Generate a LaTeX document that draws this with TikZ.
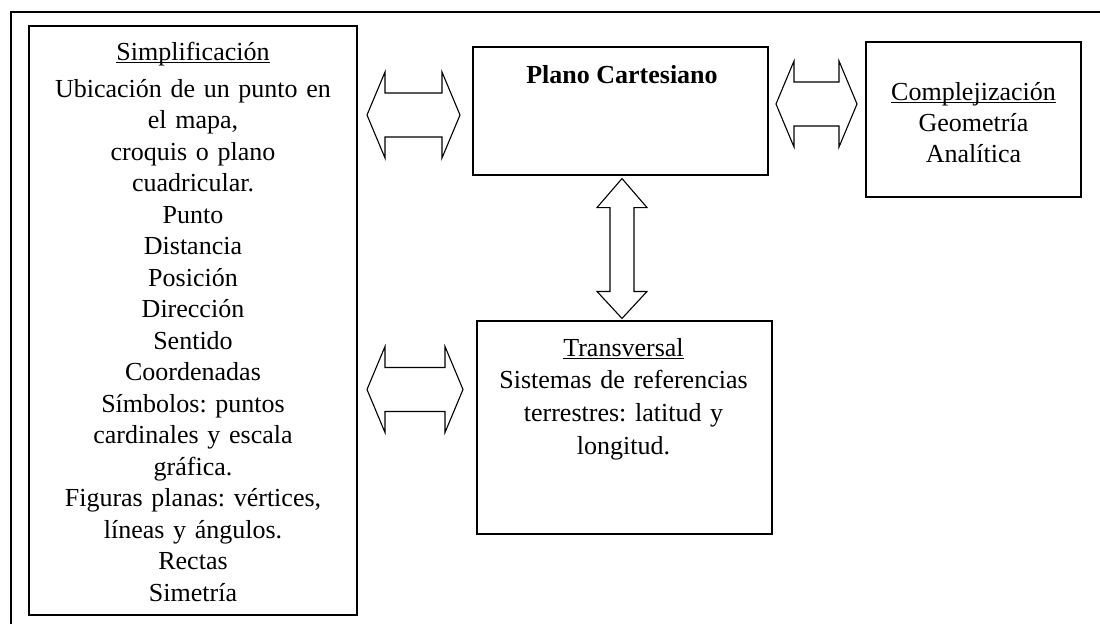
\documentclass[tikz,border=0pt]{standalone}
\usepackage{fontspec}
\setmainfont{Liberation Serif}
\usetikzlibrary{calc}
\frenchspacing

\newcommand\ulin[1]{\leavevmode\setbox0\hbox{#1}\rlap{\rule[-2.2pt]{\wd0}{1.1pt}}\box0}
% horizontal double block arrow between two coordinates
\newcommand\dblarr[2]{\draw[blockarrow] (#1) -- ($(#1)+(18,-43)$) -- ($(#1)+(18,-22)$) -- ($(#2)+(-18,-22)$) -- ($(#2)+(-18,-43)$) -- (#2) -- ($(#2)+(-18,43)$) -- ($(#2)+(-18,22)$) -- ($(#1)+(18,22)$) -- ($(#1)+(18,43)$) -- cycle;}

\tikzset{
  box/.style={draw, line width=1.1pt, inner sep=0pt},
  txt/.style={font=\fontsize{26}{31.5}\selectfont, align=center, inner sep=0pt},
  blockarrow/.style={draw, line width=1.1pt, line join=miter}
}

\begin{document}
\begin{tikzpicture}[x=1pt,y=-1pt]
\useasboundingbox (0,0) rectangle (1100,624);
\draw[line width=1.6pt] (11,624) -- (11,12) -- (1100,12);

% boxes
\node[box, minimum width=328pt, minimum height=589pt] (simpl) at (193,320.5) {};
\node[box, minimum width=295pt, minimum height=128pt] (plano) at (620.5,111) {};
\node[box, minimum width=215pt, minimum height=155pt] (complej) at (973.5,119.5) {};
\node[box, minimum width=295pt, minimum height=213pt] (transv) at (624.5,427.5) {};

% texts
\node[txt, text width=320pt, anchor=base] (simpltxt) at ($(simpl.north)+(0,35)$) {\ulin{Simplificación}\\[5.5pt]
  Ubicación de un punto en\\ el mapa,\\ croquis o plano\\ cuadricular.\\ Punto\\ Distancia\\ Posición\\ Dirección\\ Sentido\\ Coordenadas\\
  Símbolos: puntos\\ cardinales y escala\\ gráfica.\\ Figuras planas: vértices,\\ líneas y ángulos.\\ Rectas\\ Simetría};
\node[txt, anchor=base, font=\fontsize{26}{31.5}\selectfont\bfseries] (planotxt) at ($(plano.north)+(1.5,37)$) {Plano Cartesiano};
\node[txt, text width=205pt, anchor=base, font=\fontsize{26}{31}\selectfont] (complejtxt) at ($(complej.north)+(0,59)$) {\ulin{Complejización}\\ Geometría\\ Analítica};
\node[txt, text width=290pt, anchor=base, font=\fontsize{26}{33}\selectfont] (transvtxt) at ($(transv.north)+(-1,36)$) {\ulin{Transversal}\\[-1pt] Sistemas de referencias\\ terrestres: latitud y\\ longitud.};

% arrows
\coordinate (a1w) at (367,115);
\coordinate (a1e) at (460,115);
\coordinate (a2w) at (776,104);
\coordinate (a2e) at (857,104);
\coordinate (a3w) at (367,389.5);
\coordinate (a3e) at (463,389.5);
\dblarr{a1w}{a1e}
\dblarr{a2w}{a2e}
\dblarr{a3w}{a3e}

\coordinate (vt) at ($(plano.south)+(1.5,3)$);
\coordinate (vb) at ($(plano.south |- transv.north)+(1.5,-2)$);
\draw[blockarrow] (vt) -- ($(vt)+(25,29)$) -- ($(vt)+(12,29)$) -- ($(vb)+(12,-27)$) -- ($(vb)+(25,-27)$) -- (vb)
  -- ($(vb)+(-25,-27)$) -- ($(vb)+(-12,-27)$) -- ($(vt)+(-12,29)$) -- ($(vt)+(-25,29)$) -- cycle;
\end{tikzpicture}
\end{document}
